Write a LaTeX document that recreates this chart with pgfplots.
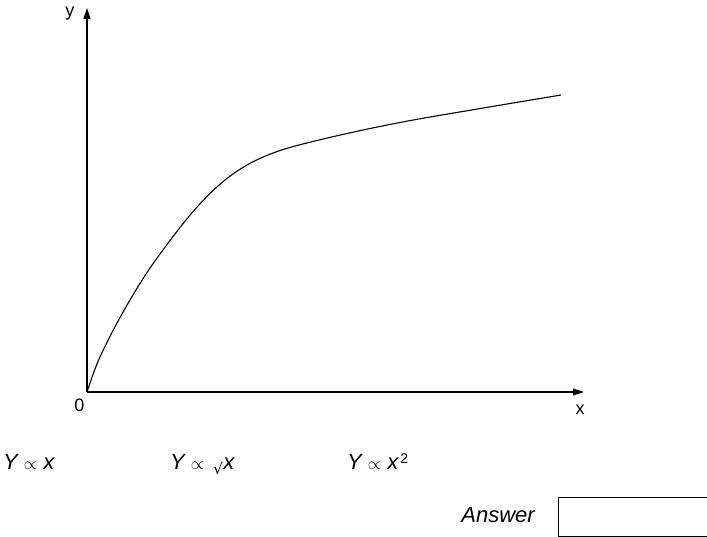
\documentclass[border=0pt]{standalone}
\usepackage{fontspec}
\setmainfont{Liberation Sans}
\newfontfamily\lblfont{Liberation Sans}
\newfontfamily\symfont{DejaVu Sans}
\usepackage{pgfplots}
\pgfplotsset{compat=1.18}
\usetikzlibrary{arrows.meta}
\newcommand{\prop}{\hspace{6pt}{\fontsize{18}{18}\selectfont$\propto$}\hspace{6pt}}

\begin{document}
\begin{tikzpicture}[x=1pt,y=1pt]
\path[use as bounding box] (-87,-145) rectangle (620,392);
\begin{axis}[
  at={(0pt,0pt)}, anchor=south west,
  scale only axis, width=497pt, height=384pt,
  xmin=0, xmax=497, ymin=0, ymax=384,
  axis lines=left,
  axis line style={line width=1.1pt, -{Stealth[length=11pt,width=7pt,inset=0pt]}},
  xtick=\empty, ytick=\empty,
  clip=false,
]
% saturating growth curve
\addplot[black, line width=1.1pt, smooth, tension=0.6] coordinates {
  (0,0) (6.3,18.3) (13,35) (26.3,62) (43,92) (59.7,119) (76.3,142.5)
  (93,164.5) (104,178) (114.7,190) (125,200.5) (135,209.5) (145,217.3)
  (155,224) (165,229.7) (175,234.5) (185,238.6) (195,242.1) (205,245.1)
  (215,247.8) (230,251.5) (246,255.3) (263,259.1) (279.7,262.8)
  (313,269.5) (346,275.5) (380,281.2) (413,286.8) (474,297)
};
\end{axis}
% axis labels
\node[font=\fontsize{18}{20}\selectfont] at (-17,378) {y};
\node[font=\fontsize{18}{20}\selectfont] at (493,-18) {x};
\node[font=\fontsize{18}{20}\selectfont] at (-7.5,-13) {0};
% options
\node[anchor=base west, inner sep=0pt, font=\lblfont\fontsize{22}{26}\selectfont\itshape]
  at (-84,-78) {Y\prop x};
\node[anchor=base west, inner sep=0pt, font=\lblfont\fontsize{22}{26}\selectfont\itshape]
  at (83,-78) {Y\prop\hspace{3pt}{\upshape\symfont\fontsize{15}{15}\selectfont\raisebox{-5pt}{√}}\hspace{0.5pt}x};
\node[anchor=base west, inner sep=0pt, font=\lblfont\fontsize{22}{26}\selectfont\itshape]
  at (260,-78) {Y\prop x\hspace{2pt}\raisebox{6pt}{\fontsize{14}{14}\selectfont\upshape 2}};
\node[anchor=base east, inner sep=0pt, font=\lblfont\fontsize{22}{26}\selectfont\itshape]
  at (448,-131) {Answer};
\draw[line width=0.9pt] (471,-105) rectangle (640,-144);
\end{tikzpicture}
\end{document}
